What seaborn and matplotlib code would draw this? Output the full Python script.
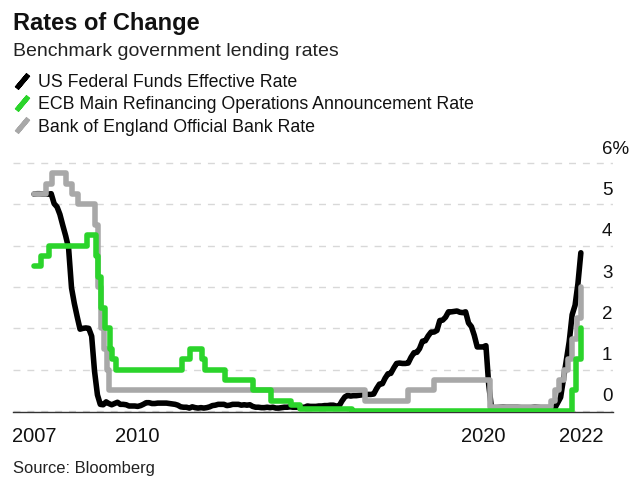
import pandas as pd
import matplotlib.pyplot as plt
import seaborn as sns
from matplotlib.lines import Line2D
from matplotlib.transforms import ScaledTranslation

# US effective fed funds rate, monthly, Jan 2007 - Nov 2022
fed_months = pd.date_range("2007-01-01", "2022-11-01", freq="MS")
fed_rate = [
    5.25, 5.26, 5.26, 5.25, 5.25, 5.25, 5.26, 5.02, 4.94, 4.76, 4.49, 4.24,  # 2007
    3.94, 2.98, 2.61, 2.28, 1.98, 2.00, 2.01, 2.00, 1.81, 0.97, 0.39, 0.16,  # 2008
    0.15, 0.22, 0.18, 0.15, 0.18, 0.21, 0.16, 0.16, 0.15, 0.12, 0.12, 0.12,  # 2009
    0.11, 0.13, 0.16, 0.20, 0.20, 0.18, 0.18, 0.19, 0.19, 0.19, 0.19, 0.18,  # 2010
    0.17, 0.16, 0.14, 0.10, 0.09, 0.09, 0.07, 0.10, 0.08, 0.07, 0.08, 0.07,  # 2011
    0.08, 0.10, 0.13, 0.14, 0.16, 0.16, 0.16, 0.13, 0.14, 0.16, 0.16, 0.16,  # 2012
    0.14, 0.15, 0.14, 0.15, 0.11, 0.09, 0.09, 0.08, 0.08, 0.09, 0.08, 0.09,  # 2013
    0.07, 0.07, 0.08, 0.09, 0.09, 0.10, 0.09, 0.09, 0.09, 0.09, 0.09, 0.12,  # 2014
    0.11, 0.11, 0.11, 0.12, 0.12, 0.13, 0.13, 0.14, 0.14, 0.12, 0.12, 0.24,  # 2015
    0.34, 0.38, 0.36, 0.37, 0.37, 0.38, 0.39, 0.40, 0.40, 0.40, 0.41, 0.54,  # 2016
    0.65, 0.66, 0.79, 0.90, 0.91, 1.04, 1.15, 1.16, 1.15, 1.15, 1.16, 1.30,  # 2017
    1.41, 1.42, 1.51, 1.69, 1.70, 1.82, 1.91, 1.91, 1.95, 2.19, 2.20, 2.27,  # 2018
    2.40, 2.40, 2.41, 2.42, 2.39, 2.38, 2.40, 2.13, 2.04, 1.83, 1.55, 1.55,  # 2019
    1.55, 1.58, 0.65, 0.05, 0.05, 0.08, 0.09, 0.10, 0.09, 0.09, 0.09, 0.09,  # 2020
    0.09, 0.08, 0.07, 0.07, 0.06, 0.08, 0.10, 0.09, 0.08, 0.08, 0.08, 0.08,  # 2021
    0.08, 0.08, 0.20, 0.33, 0.77, 1.21, 1.68, 2.33, 2.56, 3.08, 3.83,        # 2022
]

# ECB main refinancing rate, decision dates
ecb_dates = ["2007-01-01", "2007-03-14", "2007-06-13", "2008-07-09", "2008-10-15",
             "2008-11-12", "2008-12-10", "2009-01-21", "2009-03-11", "2009-04-08",
             "2009-05-13", "2011-04-13", "2011-07-13", "2011-11-09", "2011-12-14",
             "2012-07-11", "2013-05-08", "2013-11-13", "2014-06-11", "2014-09-10",
             "2016-03-16", "2022-07-27", "2022-09-14", "2022-11-02"]
ecb_rate = [3.5, 3.75, 4.0, 4.25, 3.75, 3.25, 2.5, 2.0, 1.5, 1.25, 1.0, 1.25, 1.5,
            1.25, 1.0, 0.75, 0.5, 0.25, 0.15, 0.05, 0.0, 0.5, 1.25, 2.0]

# Bank of England bank rate, decision dates
boe_dates = ["2007-01-01", "2007-05-10", "2007-07-05", "2007-12-06", "2008-02-07",
             "2008-04-10", "2008-10-08", "2008-11-06", "2008-12-04", "2009-01-08",
             "2009-02-05", "2009-03-05", "2016-08-04", "2017-11-02", "2018-08-02",
             "2020-03-11", "2020-03-19", "2021-12-16", "2022-02-03", "2022-03-17",
             "2022-05-05", "2022-06-16", "2022-08-04", "2022-09-22", "2022-11-03"]
boe_rate = [5.25, 5.5, 5.75, 5.5, 5.25, 5.0, 4.5, 3.0, 2.0, 1.5, 1.0, 0.5, 0.25,
            0.5, 0.75, 0.25, 0.1, 0.25, 0.5, 0.75, 1.0, 1.25, 1.75, 2.25, 3.0]

tick_dates = ["2007-01-01", "2010-01-01", "2020-01-01", "2022-11-01"]
tick_labels = ["2007", "2010", "2020", "2022"]
y_ticks = [0, 1, 2, 3, 4, 5, 6]
y_labels = ["0", "1", "2", "3", "4", "5", "6%"]

labels = ["US Federal Funds Effective Rate",
          "ECB Main Refinancing Operations Announcement Rate",
          "Bank of England Official Bank Rate"]
colors = ["#000000", "#2bd42b", "#a8a8a8"]

sns.set_style("white")
plt.rcParams["font.family"] = ["Liberation Sans", "DejaVu Sans"]

fig = plt.figure(figsize=(6.4, 4.91), dpi=100)
ax = fig.add_axes([13 / 640, 0.1605, 600 / 640, 0.5493])

line_kw = dict(lw=4, solid_joinstyle="round", solid_capstyle="round")
sns.lineplot(x=fed_months, y=fed_rate, color=colors[0], ax=ax, zorder=3, **line_kw)
sns.lineplot(x=pd.to_datetime(boe_dates), y=boe_rate, color=colors[2],
             drawstyle="steps-post", ax=ax, zorder=4, **line_kw)
sns.lineplot(x=pd.to_datetime(ecb_dates), y=ecb_rate, color=colors[1],
             drawstyle="steps-post", ax=ax, zorder=5, **line_kw)

ax.set_xlim(pd.Timestamp("2006-05-23"), pd.Timestamp("2023-10-07"))
ax.set_ylim(-0.03, 6.5)
ax.set_xlabel("")
ax.set_ylabel("")

ax.set_xticks(pd.to_datetime(tick_dates))
ax.set_xticklabels(tick_labels)
ax.set_yticks(y_ticks)
ax.set_yticklabels(y_labels)

for s in ["top", "left", "right"]:
    ax.spines[s].set_visible(False)
ax.spines["bottom"].set_color("#333333")
ax.spines["bottom"].set_linewidth(1)

ax.tick_params(axis="x", direction="out", length=4.5, width=1, color="#333333",
               labelsize=14.5, pad=6, labelcolor="#111111")
ax.tick_params(axis="y", length=0, labelleft=False, labelright=True,
               labelsize=13.5, pad=-8, labelcolor="#111111")
ax.grid(axis="y", color="#d8d8d8", linestyle=(0, (5, 5)), lw=1)
ax.set_axisbelow(True)

# y labels sit above their gridline
up = ScaledTranslation(0, 0.16, fig.dpi_scale_trans)
for t in ax.yaxis.get_major_ticks():
    t.label2.set_transform(t.label2.get_transform() + up)

handles = [Line2D([0], [0], linestyle="none", marker=(2, 2, -40), markersize=13,
                  markeredgewidth=3.6, markeredgecolor=c, color=c) for c in colors]
fig.legend(handles, labels, loc="upper left", bbox_to_anchor=(13 / 640, 1 - 74 / 491),
           frameon=False, fontsize=12.8, handlelength=1, handletextpad=0.4,
           borderpad=0, borderaxespad=0, labelspacing=0.3, labelcolor="#111111")

fig.text(13 / 640, 1 - 30 / 491, "Rates of Change", fontsize=17, fontweight="bold",
         va="baseline", color="#111111")
fig.text(13 / 640, 1 - 56 / 491, "Benchmark government lending rates", fontsize=14,
         va="baseline", color="#222222")
fig.text(13 / 640, 1 - 473 / 491, "Source: Bloomberg", fontsize=11.9,
         va="baseline", color="#222222")

plt.savefig("out.png", dpi=100)
